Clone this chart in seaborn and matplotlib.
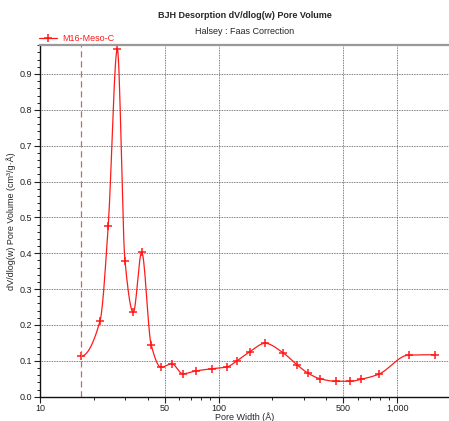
import numpy as np
import pandas as pd
import seaborn as sns
import matplotlib.pyplot as plt
from matplotlib.lines import Line2D
from matplotlib.ticker import FixedLocator, FuncFormatter, MultipleLocator

# pore width (A) and dV/dlog(w)
pore_width = [17.0, 21.7, 24.1, 27.1, 29.9, 33.3, 37.1, 41.9, 47.6, 54.7, 63.0,
              74.8, 91.6, 111, 127, 150, 182, 229, 276, 316, 370, 455, 545, 629,
              786, 1157, 1633]
pore_volume = [0.113, 0.212, 0.477, 0.970, 0.379, 0.235, 0.403, 0.145, 0.082,
               0.092, 0.064, 0.072, 0.078, 0.083, 0.100, 0.126, 0.149, 0.123,
               0.088, 0.066, 0.050, 0.043, 0.043, 0.0485, 0.0625, 0.116, 0.117]
series_name = "M16-Meso-C"
marker_line = 17.0
x_ticks = [10, 50, 100, 500, 1000]
RED = "#ff1a1a"


def pchip(x, y, xn):
    # monotone cubic through the measured points (smooth line like the instrument software)
    x = np.asarray(x, float)
    y = np.asarray(y, float)
    h = np.diff(x)
    d = np.diff(y) / h
    m = np.zeros_like(y)
    for k in range(1, len(x) - 1):
        if d[k - 1] * d[k] > 0:
            w1 = 2 * h[k] + h[k - 1]
            w2 = h[k] + 2 * h[k - 1]
            m[k] = (w1 + w2) / (w1 / d[k - 1] + w2 / d[k])
    for k, (h0, h1, d0, d1) in ((0, (h[0], h[1], d[0], d[1])),
                               (-1, (h[-1], h[-2], d[-1], d[-2]))):
        e = ((2 * h0 + h1) * d0 - h0 * d1) / (h0 + h1)
        if np.sign(e) != np.sign(d0):
            e = 0.0
        elif np.sign(d0) != np.sign(d1) and abs(e) > abs(3 * d0):
            e = 3 * d0
        m[k] = e
    idx = np.clip(np.searchsorted(x, xn) - 1, 0, len(x) - 2)
    t = (xn - x[idx]) / h[idx]
    h00 = 2 * t**3 - 3 * t**2 + 1
    h10 = t**3 - 2 * t**2 + t
    h01 = -2 * t**3 + 3 * t**2
    h11 = t**3 - t**2
    return h00 * y[idx] + h10 * h[idx] * m[idx] + h01 * y[idx + 1] + h11 * h[idx] * m[idx + 1]


def plot_chart():
    sns.set_style("white")
    plt.rcParams["font.family"] = ["Liberation Sans", "DejaVu Sans"]

    fig = plt.figure(figsize=(4.49, 4.21), dpi=100)
    ax = fig.add_axes([0.0891, 0.0577, 0.9109, 0.8347])

    lx = np.log10(pore_width)
    fine = np.linspace(lx[0], lx[-1], 600)
    curve = pd.DataFrame({"w": 10 ** fine, "v": pchip(lx, pore_volume, fine)})
    sns.lineplot(data=curve, x="w", y="v", ax=ax, color=RED, linewidth=0.9,
                 sort=False, legend=False)
    ax.plot(pore_width, pore_volume, linestyle="none", marker="+", color=RED,
            markersize=6, markeredgewidth=1.1)

    ax.axvline(marker_line, color="#c46a6a", linestyle=(0, (5, 3)), linewidth=0.9)

    ax.set_xscale("log")
    ax.set_xlim(10, 1950)
    ax.set_ylim(0, 0.98)

    ax.xaxis.set_major_locator(FixedLocator(x_ticks))
    minors = [v * 10 ** e for e in (1, 2, 3) for v in range(1, 10)]
    ax.xaxis.set_minor_locator(FixedLocator([m for m in minors if m not in x_ticks]))
    ax.xaxis.set_major_formatter(FuncFormatter(lambda v, p: f"{int(v):,}"))
    ax.xaxis.set_minor_formatter(FuncFormatter(lambda v, p: ""))
    ax.yaxis.set_major_locator(MultipleLocator(0.1))
    ax.yaxis.set_minor_locator(MultipleLocator(0.02))
    ax.yaxis.set_major_formatter(FuncFormatter(lambda v, p: f"{v:.1f}"))

    ax.grid(True, which="major", color="#555555", linestyle=(0, (1, 1)), linewidth=0.6)
    ax.tick_params(axis="both", which="major", labelsize=6.5, length=4, width=0.8,
                   direction="out", left=True, bottom=True, colors="#222222")
    ax.tick_params(axis="x", which="major", pad=1)
    ax.tick_params(axis="y", which="major", pad=1.5)
    ax.tick_params(axis="both", which="minor", length=2.5, width=0.7,
                   direction="out", left=True, bottom=True, colors="#222222")

    for s in ("left", "bottom"):
        ax.spines[s].set_color("#111111")
        ax.spines[s].set_linewidth(1.0)
    ax.spines["top"].set_color("#999999")
    ax.spines["top"].set_linewidth(1.6)
    ax.spines["right"].set_visible(False)

    ax.set_xlabel("Pore Width (Å)", fontsize=6.5, labelpad=0)
    ax.set_ylabel("dV/dlog(w) Pore Volume (cm³/g·Å)", fontsize=6.5, labelpad=3)

    fig.text(0.545, 0.962, "BJH Desorption dV/dlog(w) Pore Volume", ha="center",
             va="center", fontsize=6.5, fontweight="bold")
    fig.text(0.545, 0.925, "Halsey : Faas Correction", ha="center", va="center",
             fontsize=6.5)

    handle = Line2D([], [], color=RED, marker="+", markersize=6,
                    markeredgewidth=1.1, linewidth=0.9)
    leg = ax.legend([handle], [series_name], loc="lower left",
                    bbox_to_anchor=(-0.005, 1.003), frameon=False, fontsize=6.5,
                    handlelength=2.0, handletextpad=0.6, borderpad=0.1,
                    borderaxespad=0.0)
    for t in leg.get_texts():
        t.set_color(RED)

    fig.savefig("out.png", dpi=100)
    plt.close(fig)


if __name__ == "__main__":
    plot_chart()
